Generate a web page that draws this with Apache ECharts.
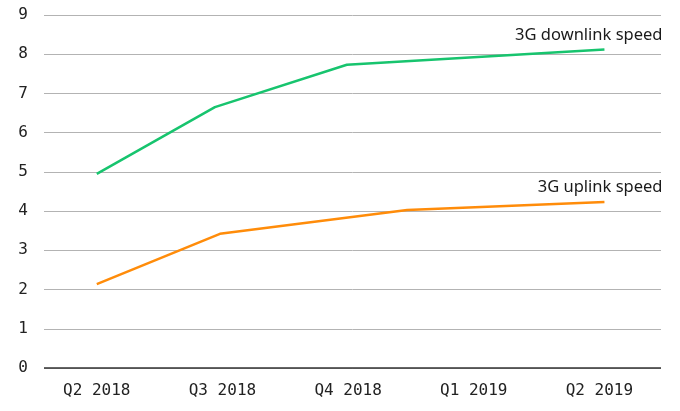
<!DOCTYPE html>
<html><head><meta charset="utf-8">
<script src="https://cdn.jsdelivr.net/npm/echarts@6/dist/echarts.min.js"></script>
<style>html,body{margin:0;padding:0;background:#fff}#c{width:680px;height:411px}</style>
</head><body><div id="c"></div>
<script>
// Quarter labels (x index 0..4)
const quarters = ['Q2 2018', 'Q3 2018', 'Q4 2018', 'Q1 2019', 'Q2 2019'];
const yTicks = [0,1,2,3,4,5,6,7,8,9];
// Measurement positions (in quarter index units) and values, Mbps
const downX = [0, 0.94, 1.99, 4.04];
const downY = [4.95, 6.65, 7.73, 8.12];
const upX = [0, 0.98, 2.47, 4.04];
const upY = [2.14, 3.42, 4.03, 4.23];
const downName = '3G downlink speed';
const upName = '3G uplink speed';

const pairs = (xs, ys) => xs.map((x, i) => [x, ys[i]]);
const endLabel = name => ({ show: true, formatter: name, align: 'right', verticalAlign: 'bottom',
  distance: 0, offset: [58, -6], color: '#1a1a1a', fontFamily: 'Noto Sans', fontSize: 16.5 });

const chart = echarts.init(document.getElementById('c'), null, { renderer: 'canvas' });
chart.setOption({
  animation: false,
  grid: { left: 44, right: 19, top: 15, bottom: 43, containLabel: false },
  xAxis: {
    type: 'value', min: -0.42, max: 4.49,
    splitLine: { show: false },
    axisLine: { show: false },
    axisTick: { show: false },
    axisLabel: {
      customValues: [0, 1, 2, 3, 4],
      formatter: v => quarters[Math.round(v)],
      color: '#222', fontFamily: 'DejaVu Sans Mono', fontSize: 16, margin: 15
    }
  },
  yAxis: {
    type: 'value', min: 0, max: 9, interval: 1,
    axisLine: { show: false }, axisTick: { show: false },
    axisLabel: { color: '#222', fontFamily: 'DejaVu Sans Mono', fontSize: 16, margin: 16,
      formatter: v => yTicks.includes(v) ? String(v) : '' },
    splitLine: { lineStyle: { color: '#b3b3b3', width: 1 } }
  },
  series: [
    { type: 'line', name: downName, data: pairs(downX, downY), symbol: 'none', showSymbol: false,
      lineStyle: { color: '#17c46e', width: 2.5 }, itemStyle: { color: '#17c46e' }, z: 3,
      endLabel: endLabel(downName),
      markLine: { silent: true, symbol: 'none', label: { show: false },
        lineStyle: { color: '#333', width: 1.5, type: 'solid' }, data: [{ yAxis: 0 }] } },
    { type: 'line', name: upName, data: pairs(upX, upY), symbol: 'none', showSymbol: false,
      lineStyle: { color: '#ff8c0a', width: 2.5 }, itemStyle: { color: '#ff8c0a' }, z: 3,
      endLabel: endLabel(upName) }
  ]
});
</script></body></html>
